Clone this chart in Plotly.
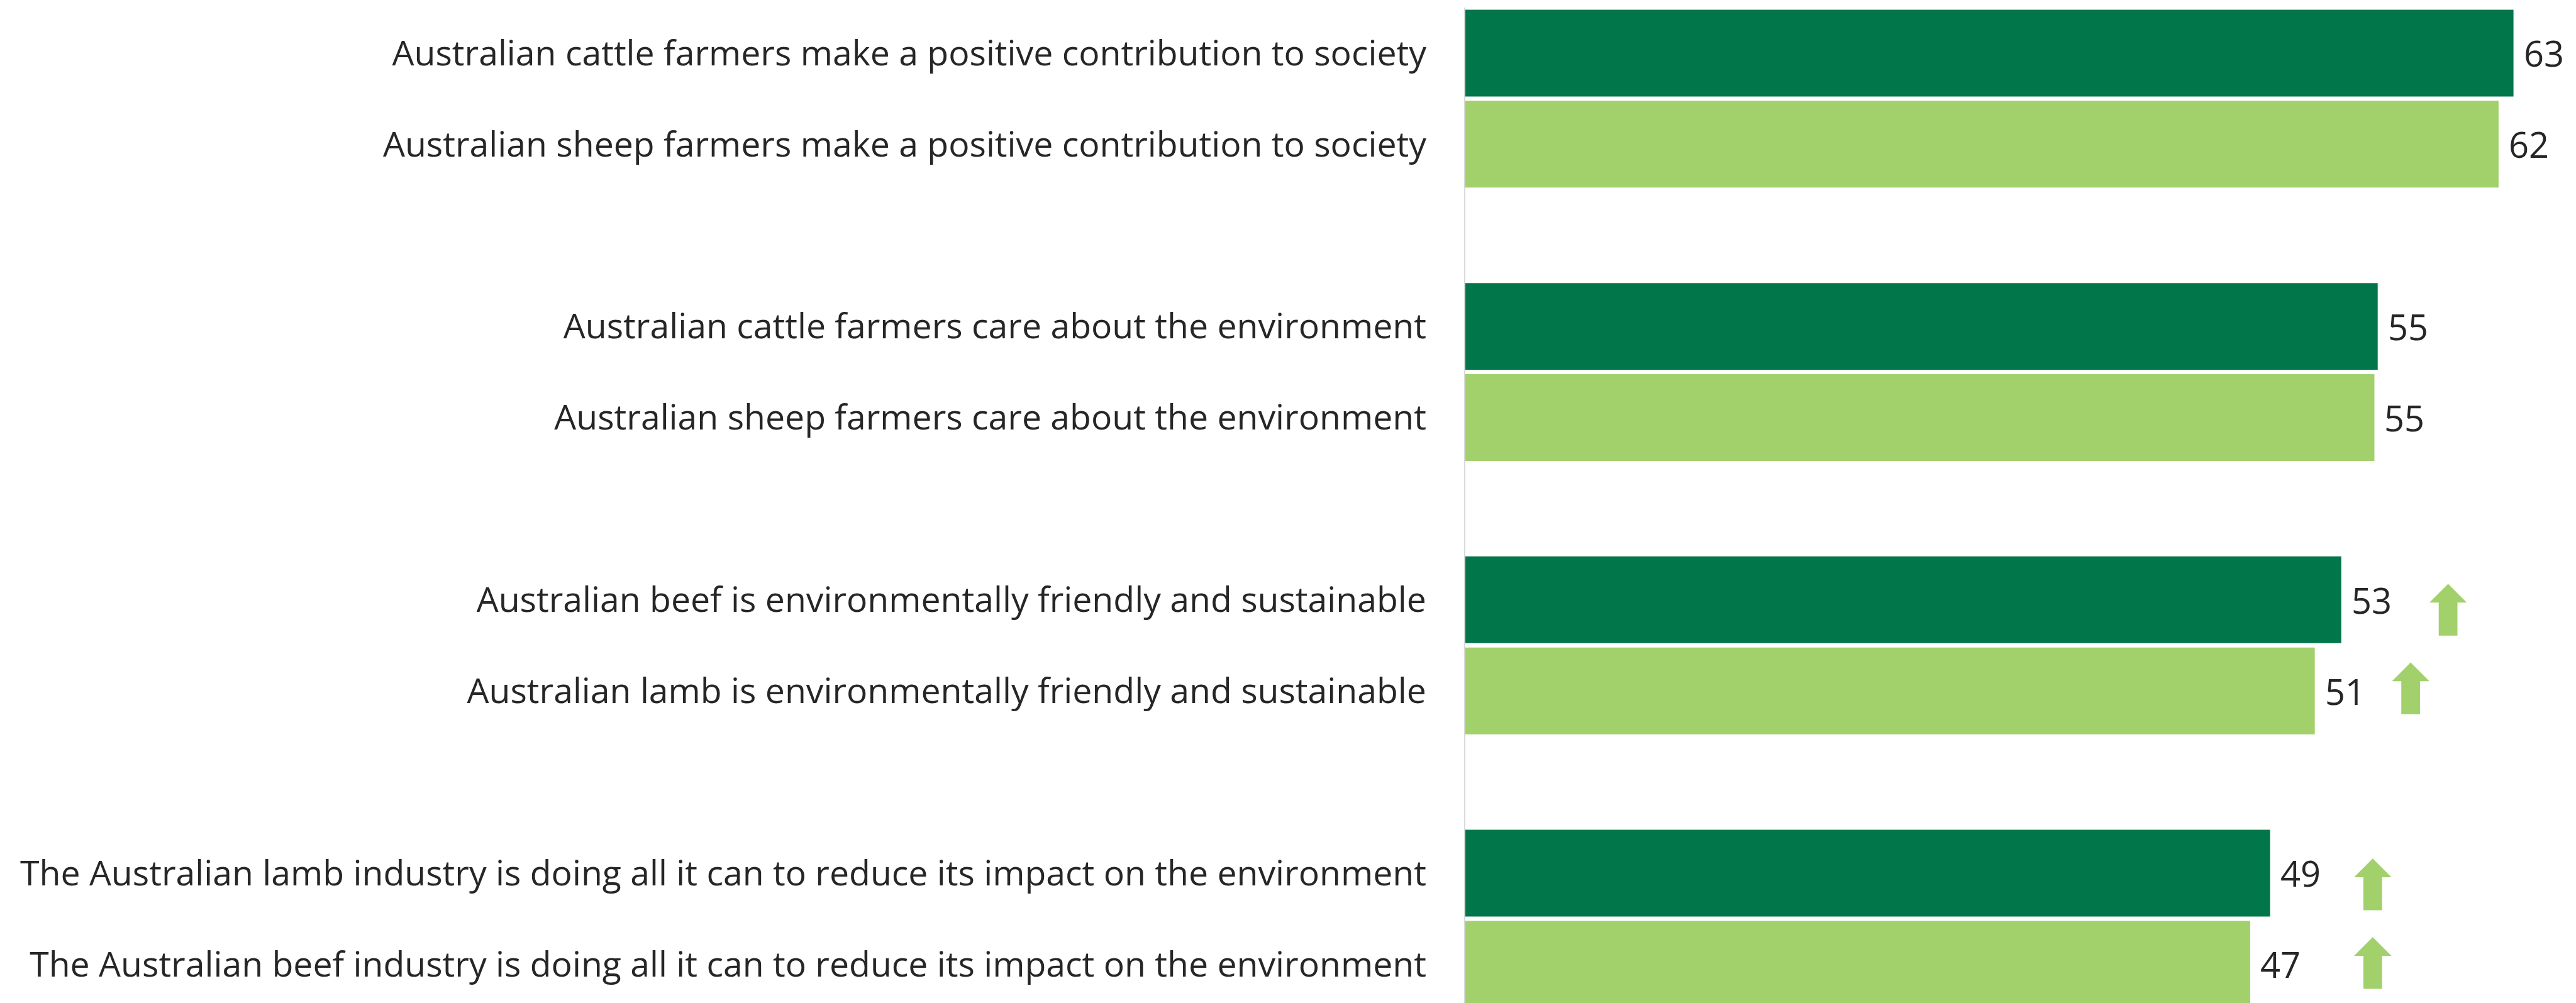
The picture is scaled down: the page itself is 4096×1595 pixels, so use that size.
import plotly.graph_objects as go

# ---- data ----
statements = [
    "Australian cattle farmers make a positive contribution to society",
    "Australian sheep farmers make a positive contribution to society",
    "Australian cattle farmers care about the environment",
    "Australian sheep farmers care about the environment",
    "Australian beef is environmentally friendly and sustainable",
    "Australian lamb is environmentally friendly and sustainable",
    "The Australian lamb industry is doing all it can to reduce its impact on the environment",
    "The Australian beef industry is doing all it can to reduce its impact on the environment",
]
scores = [63.3, 62.4, 55.1, 54.9, 52.9, 51.3, 48.6, 47.4]
series = ["dark", "light", "dark", "light", "dark", "light", "dark", "light"]
significant_increase = [False, False, False, False, True, True, True, True]

# ---- style / layout constants ----
S = 0.991
W, H = 4096, 1595
OFF = 8  # default page (body) margin of the html document
DARK = "#00764A"
LIGHT = "#A2D06A"
TEXT = "#262626"
FONT = "Open Sans"
LABEL_SIZE = 55.35
VALUE_SIZE = 56

# arrow placement (x in data units, vertical offset in px, + = down)
arrow_x = [None, None, None, None, 59.35, 57.09, 54.8, 54.8]
arrow_dy = [0, 0, 0, 0, 16, -4, 18, -2]

# category order with blank spacer rows between pairs
cat_order = []
for i, s in enumerate(statements):
    if i > 0 and i % 2 == 0:
        cat_order.append(" " * (i // 2))
    cat_order.append(s)

fig = go.Figure()
for key, col in (("dark", DARK), ("light", LIGHT)):
    xs = [v for v, k in zip(scores, series) if k == key]
    ys = [c for c, k in zip(statements, series) if k == key]
    fig.add_trace(go.Bar(
        x=xs, y=ys, orientation="h",
        marker=dict(color=col, line=dict(width=0)),
        showlegend=False, hoverinfo="x+y",
    ))

# value labels
for v, c in zip(scores, statements):
    fig.add_annotation(
        x=v, y=cat_order.index(c), xref="x", yref="y",
        text=f"{v:.0f}", showarrow=False, xanchor="left", yanchor="middle",
        xshift=14, font=dict(family=FONT, size=VALUE_SIZE, color=TEXT),
    )

# significance arrows (block arrows, sized in pixels)
shaft_w, head_w, head_h, total_h = 30 * S, 60 * S, 30 * S, 83 * S
for c, flag, ax_, dy in zip(statements, significant_increase, arrow_x, arrow_dy):
    if not flag:
        continue
    cy = -dy * S
    top = cy + total_h / 2
    bot = cy - total_h / 2
    hb = top - head_h
    sx, hx = shaft_w / 2, head_w / 2
    path = (f"M {-sx:.2f},{bot:.2f} L {sx:.2f},{bot:.2f} L {sx:.2f},{hb:.2f} "
            f"L {hx:.2f},{hb:.2f} L 0,{top:.2f} L {-hx:.2f},{hb:.2f} "
            f"L {-sx:.2f},{hb:.2f} Z")
    fig.add_shape(
        type="path", path=path, xref="x", yref="y",
        xsizemode="pixel", ysizemode="pixel",
        xanchor=ax_, yanchor=cat_order.index(c),
        fillcolor=LIGHT, line=dict(width=0), layer="above",
    )

pitch = 146.17 * S
top_m = 12.5 * S - OFF
bot_m = OFF
plot_h = H - top_m - bot_m
left_m = 2351 * S - OFF
right_m = OFF
px_per_unit = 26.57 * S

fig.update_layout(
    width=W, height=H,
    margin=dict(l=left_m, r=right_m, t=top_m, b=bot_m, pad=0, autoexpand=False),
    paper_bgcolor="white", plot_bgcolor="white",
    barmode="overlay", bargap=0.048,
    font=dict(family=FONT, color=TEXT),
    xaxis=dict(visible=False, range=[0, (W - left_m - right_m) / px_per_unit],
               fixedrange=True, automargin=False),
    yaxis=dict(
        type="category", categoryorder="array", categoryarray=cat_order,
        range=[-0.5 + plot_h / pitch, -0.5],
        showline=True, linecolor="#D9D9D9", linewidth=2,
        showgrid=False, zeroline=False, ticks="",
        ticklabelstandoff=49, automargin=False,
        tickfont=dict(family=FONT, size=LABEL_SIZE, color=TEXT),
        fixedrange=True,
    ),
)

fig.write_html("out.html")
